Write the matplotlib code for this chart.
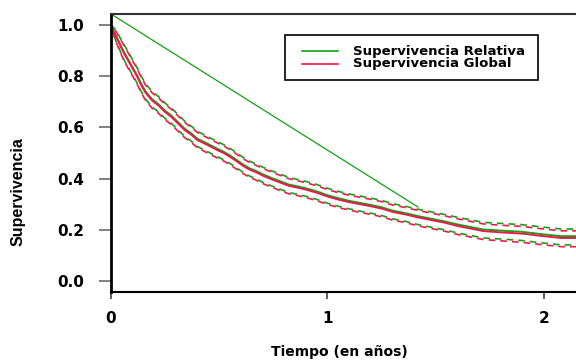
import matplotlib
matplotlib.use("Agg")
import matplotlib.pyplot as plt
from matplotlib.lines import Line2D
from matplotlib.patches import Rectangle

plt.rcParams['font.family'] = ['DejaVu Sans']
plt.rcParams['font.weight'] = 'bold'

# ---- data ----
times = [0, 0.02, 0.04, 0.06, 0.08, 0.10, 0.12, 0.14, 0.16, 0.19, 0.22,
         0.25, 0.28, 0.31, 0.34, 0.37, 0.40, 0.43, 0.46, 0.49, 0.52,
         0.55, 0.58, 0.61, 0.64, 0.67, 0.70, 0.74, 0.78, 0.82, 0.86,
         0.90, 0.95, 1.00, 1.05, 1.10, 1.15, 1.20, 1.25, 1.30, 1.36,
         1.42, 1.48, 1.54, 1.60, 1.66, 1.72, 1.80, 1.90, 2.00, 2.08, 2.15]

glob = [1.0, 0.96, 0.925, 0.89, 0.86, 0.83, 0.80, 0.765, 0.735, 0.705, 0.685,
        0.66, 0.64, 0.615, 0.59, 0.572, 0.55, 0.538, 0.525, 0.512, 0.50,
        0.485, 0.468, 0.45, 0.435, 0.425, 0.412, 0.398, 0.385, 0.372, 0.365,
        0.357, 0.345, 0.33, 0.318, 0.308, 0.30, 0.292, 0.283, 0.27, 0.26,
        0.248, 0.238, 0.228, 0.215, 0.205, 0.195, 0.19, 0.185, 0.175, 0.168, 0.168]
glob_up = [1.0, 0.98, 0.95, 0.92, 0.89, 0.86, 0.83, 0.795, 0.765, 0.735, 0.715,
           0.69, 0.67, 0.645, 0.62, 0.60, 0.58, 0.566, 0.553, 0.54, 0.528,
           0.513, 0.496, 0.478, 0.463, 0.452, 0.44, 0.426, 0.413, 0.40, 0.392,
           0.384, 0.372, 0.357, 0.345, 0.335, 0.327, 0.319, 0.31, 0.297, 0.287,
           0.275, 0.265, 0.255, 0.243, 0.233, 0.223, 0.218, 0.213, 0.203, 0.196, 0.196]
glob_lo = [1.0, 0.94, 0.90, 0.86, 0.83, 0.80, 0.77, 0.735, 0.705, 0.675, 0.655,
           0.63, 0.61, 0.585, 0.56, 0.542, 0.52, 0.507, 0.494, 0.481, 0.469,
           0.454, 0.437, 0.42, 0.405, 0.394, 0.381, 0.367, 0.354, 0.341, 0.334,
           0.326, 0.314, 0.299, 0.287, 0.277, 0.268, 0.26, 0.251, 0.238, 0.228,
           0.215, 0.205, 0.195, 0.182, 0.172, 0.162, 0.157, 0.151, 0.141, 0.134, 0.134]

rel = [1.0, 0.963, 0.928, 0.894, 0.864, 0.834, 0.804, 0.77, 0.74, 0.71, 0.69,
       0.665, 0.645, 0.62, 0.595, 0.577, 0.555, 0.543, 0.53, 0.517, 0.505,
       0.49, 0.473, 0.455, 0.44, 0.43, 0.417, 0.403, 0.39, 0.377, 0.37,
       0.362, 0.35, 0.335, 0.323, 0.313, 0.305, 0.297, 0.288, 0.275, 0.265,
       0.253, 0.243, 0.233, 0.221, 0.211, 0.201, 0.197, 0.192, 0.182, 0.175, 0.175]
rel_up = [1.0, 0.983, 0.953, 0.924, 0.894, 0.864, 0.834, 0.80, 0.77, 0.74, 0.72,
          0.695, 0.675, 0.65, 0.625, 0.605, 0.585, 0.571, 0.558, 0.545, 0.533,
          0.518, 0.501, 0.483, 0.468, 0.457, 0.445, 0.431, 0.418, 0.405, 0.397,
          0.389, 0.377, 0.362, 0.35, 0.34, 0.332, 0.324, 0.315, 0.302, 0.292,
          0.28, 0.27, 0.26, 0.249, 0.239, 0.229, 0.225, 0.22, 0.21, 0.203, 0.203]
rel_lo = [1.0, 0.943, 0.903, 0.864, 0.834, 0.804, 0.774, 0.74, 0.71, 0.68, 0.66,
          0.635, 0.615, 0.59, 0.565, 0.547, 0.525, 0.512, 0.499, 0.486, 0.474,
          0.459, 0.442, 0.425, 0.41, 0.399, 0.386, 0.372, 0.359, 0.346, 0.339,
          0.331, 0.319, 0.304, 0.292, 0.282, 0.273, 0.265, 0.256, 0.243, 0.233,
          0.22, 0.21, 0.2, 0.188, 0.178, 0.168, 0.164, 0.158, 0.148, 0.141, 0.141]

diag_t = [0, 1.418]
diag_s = [1.043, 0.289]

xticks = [0, 1, 2]
yticks = [0.0, 0.2, 0.4, 0.6, 0.8, 1.0]
ytick_labels = ["0.0", "0.2", "0.4", "0.6", "0.8", "1.0"]
labels = ["Supervivencia Relativa", "Supervivencia Global"]

GREEN = '#13A013'
RED = '#EC1A4C'

W, H = 576, 361
fig = plt.figure(figsize=(W/100, H/100), dpi=100)
ax = fig.add_axes([111/W, 69/H, 1 - 111/W, (292-14)/H])

ax.plot(diag_t, diag_s, color=GREEN, lw=0.9)
ax.plot(times, rel_up, color=GREEN, lw=1.2, ls=(0, (4, 3)))
ax.plot(times, rel_lo, color=GREEN, lw=1.2, ls=(0, (4, 3)))
ax.plot(times, glob_up, color=RED, lw=1.2, ls=(3, (4, 3)))
ax.plot(times, glob_lo, color=RED, lw=1.2, ls=(3, (4, 3)))
ax.plot(times, rel, color=GREEN, lw=1.4)
ax.plot(times, glob, color=RED, lw=1.4)

ax.set_xlim(0, 2.148)
ax.set_ylim(-0.043, 1.043)
ax.set_xticks(xticks)
ax.set_xticklabels([str(v) for v in xticks], fontsize=11, fontweight='bold')
ax.set_yticks(yticks)
ax.set_yticklabels(ytick_labels, fontsize=11, fontweight='bold')

ax.spines['right'].set_visible(False)
ax.spines['left'].set_linewidth(2)
ax.spines['left'].set_color('black')
ax.spines['bottom'].set_linewidth(1.5)
ax.spines['bottom'].set_color('black')
ax.spines['top'].set_linewidth(1.5)
ax.spines['top'].set_color('#333333')

ax.tick_params(axis='y', length=8.6, width=1.3, color='#777777', pad=10.5)
ax.tick_params(axis='x', length=5, width=1.3, color='#555555', pad=9)

fig.text(18/W, 1 - 192/H, "Supervivencia", rotation=90, ha='center', va='center',
         fontsize=11.5, fontweight='bold', family='Liberation Sans')
fig.text(339/W, 1 - 352/H, "Tiempo (en años)", ha='center', va='center',
         fontsize=10, fontweight='bold')

# legend (drawn in figure pixel positions)
fig.add_artist(Rectangle((285/W, 1 - 80/H), 253/W, 45/H, fill=False, ec='black',
                         lw=1.2, transform=fig.transFigure))
for ypix, col, lab in zip([51, 64], [GREEN, RED], labels):
    fig.add_artist(Line2D([302/W, 338/W], [1 - ypix/H, 1 - ypix/H], color=col, lw=1.2,
                          transform=fig.transFigure))
    fig.text(353/W, 1 - ypix/H, lab, ha='left', va='center', fontsize=9.5,
             fontweight='bold')

fig.savefig("out.png", dpi=100)
